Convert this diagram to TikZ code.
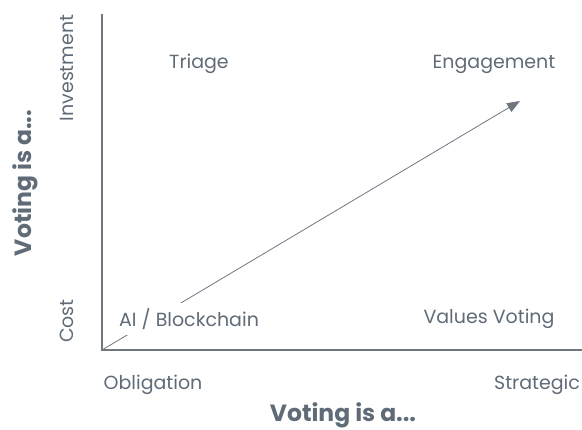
\documentclass[tikz,border=0pt]{standalone}
\usepackage{fontspec}
\setmainfont{Poppins}
\usetikzlibrary{arrows.meta}
\definecolor{ink}{HTML}{5F6B76}
\definecolor{axis}{HTML}{6E7780}
\begin{document}
\begin{tikzpicture}[x=1pt,y=-1pt,
  lbl/.style={text=ink,font=\fontsize{19}{22}\selectfont,inner sep=0pt},
  ttl/.style={text=ink,font=\fontsize{23.5}{26}\selectfont\bfseries,inner sep=0pt},
  axisline/.style={draw=axis,line width=1.1pt},
  trend/.style={draw=axis,line width=0.8pt,-{Triangle[length=13pt,width=10pt]}}]
\useasboundingbox (0,0) rectangle (582,430);
\coordinate (o) at (102,350);
\coordinate (ytop) at (102,14);
\coordinate (xend) at (582,350);
\coordinate (tip) at (520,101);
\draw[axisline] (ytop) -- (o) -- (xend);
\draw[trend] (o) -- (tip);
\node[lbl,fill=white,inner sep=5pt] (ai) at (189,319) {AI / Blockchain};
\node[lbl] (tri) at (199,64) {Triage};
\node[lbl] (eng) at (494,64) {Engagement};
\node[lbl] (val) at (489,319) {Values Voting};
\node[lbl] (obl) at (153,385) {Obligation};
\node[lbl] (str) at (537,385) {Strategic};
\node[lbl,rotate=90] (inv) at (67,68) {Investment};
\node[lbl,rotate=90] (cost) at (67,321) {Cost};
\node[ttl,rotate=90] (vy) at (25,183) {Voting is a...};
\node[ttl] (vx) at (343,415) {Voting is a...};
\end{tikzpicture}
\end{document}
